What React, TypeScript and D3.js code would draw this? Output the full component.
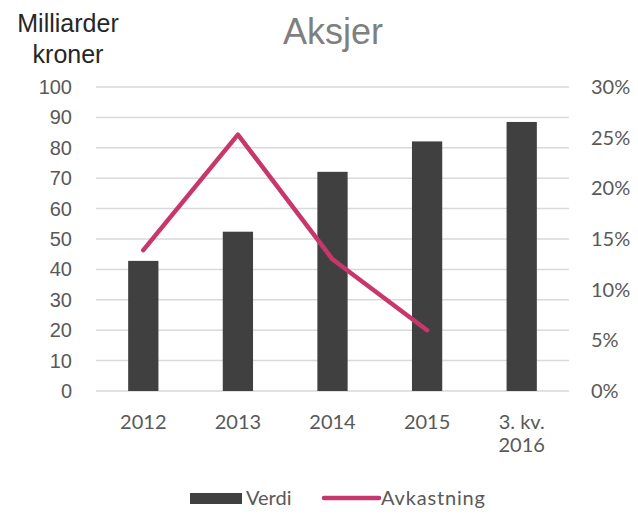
import * as d3 from "d3";

const categories = ["2012", "2013", "2014", "2015", "3. kv.\n2016"];
const verdi = [42.8, 52.4, 72.1, 82.1, 88.5];
const avkastning = [0.139, 0.253, 0.13, 0.06];
const leftTicks = [0, 10, 20, 30, 40, 50, 60, 70, 80, 90, 100];
const rightTicks = [0, 0.05, 0.1, 0.15, 0.2, 0.25, 0.3];

const W = 638;
const H = 517;
const margin = { top: 87, right: 69, bottom: 126, left: 96 };

export default function App() {
  const x = d3
    .scaleBand()
    .domain(categories)
    .range([margin.left, W - margin.right])
    .paddingInner(0.68)
    .paddingOuter(0.34);
  const y = d3.scaleLinear().domain([0, 100]).range([H - margin.bottom, margin.top]);
  const y2 = d3.scaleLinear().domain([0, 0.3]).range([H - margin.bottom, margin.top]);

  const line = d3
    .line<number>()
    .x((_, i) => x(categories[i])! + x.bandwidth() / 2)
    .y((d) => y2(d));

  const gray = "#595959";
  const calibri = "Lato, 'Open Sans', sans-serif";
  const arial = "'Liberation Sans', Arial, sans-serif";

  return (
    <svg
      width={W}
      height={H}
      style={{ position: "absolute", left: 0, top: 0, background: "#fff" }}
    >
      <text x={333} y={44} textAnchor="middle" fontFamily={arial} fontSize={36} fill="#7f7f7f">
        Aksjer
      </text>
      <text fontFamily={arial} fontSize={25} fill="#262626" textAnchor="middle">
        <tspan x={68} y={32}>Milliarder</tspan>
        <tspan x={68} y={63}>kroner</tspan>
      </text>

      <g>
        {leftTicks.map((t) => (
          <g key={t}>
            <line
              x1={margin.left}
              x2={W - margin.right}
              y1={y(t)}
              y2={y(t)}
              stroke="#d9d9d9"
              strokeWidth={1.5}
            />
            <text
              x={72}
              y={y(t)}
              dy="0.35em"
              textAnchor="end"
              fontFamily={arial}
              fontSize={20}
              fill={gray}
            >
              {t}
            </text>
          </g>
        ))}
      </g>

      <g>
        {rightTicks.map((t) => (
          <text
            key={t}
            x={591}
            y={y2(t)}
            dy="0.35em"
            fontFamily={calibri}
            fontSize={20}
            fill={gray}
          >
            {d3.format(".0%")(t)}
          </text>
        ))}
      </g>

      <g>
        {verdi.map((v, i) => (
          <rect
            key={i}
            x={x(categories[i])}
            y={y(v)}
            width={x.bandwidth()}
            height={y(0) - y(v)}
            fill="#404040"
          />
        ))}
      </g>

      <path
        d={line(avkastning) ?? ""}
        fill="none"
        stroke="#c8376c"
        strokeWidth={4.5}
        strokeLinecap="round"
        strokeLinejoin="round"
      />

      <g>
        {categories.map((c) => (
          <text
            key={c}
            textAnchor="middle"
            fontFamily={calibri}
            fontSize={20}
            fill={gray}
          >
            {c.split("\n").map((part, j) => (
              <tspan key={j} x={x(c)! + x.bandwidth() / 2} y={429 + j * 23}>
                {part}
              </tspan>
            ))}
          </text>
        ))}
      </g>

      <g fontFamily={calibri} fontSize={20} fill={gray}>
        <rect x={190} y={493} width={52} height={11} fill="#404040" />
        <text x={246} y={505}>Verdi</text>
        <line
          x1={324}
          x2={379}
          y1={498}
          y2={498}
          stroke="#c8376c"
          strokeWidth={4.5}
          strokeLinecap="round"
        />
        <text x={381} y={505} textLength={104}>Avkastning</text>
      </g>
    </svg>
  );
}
